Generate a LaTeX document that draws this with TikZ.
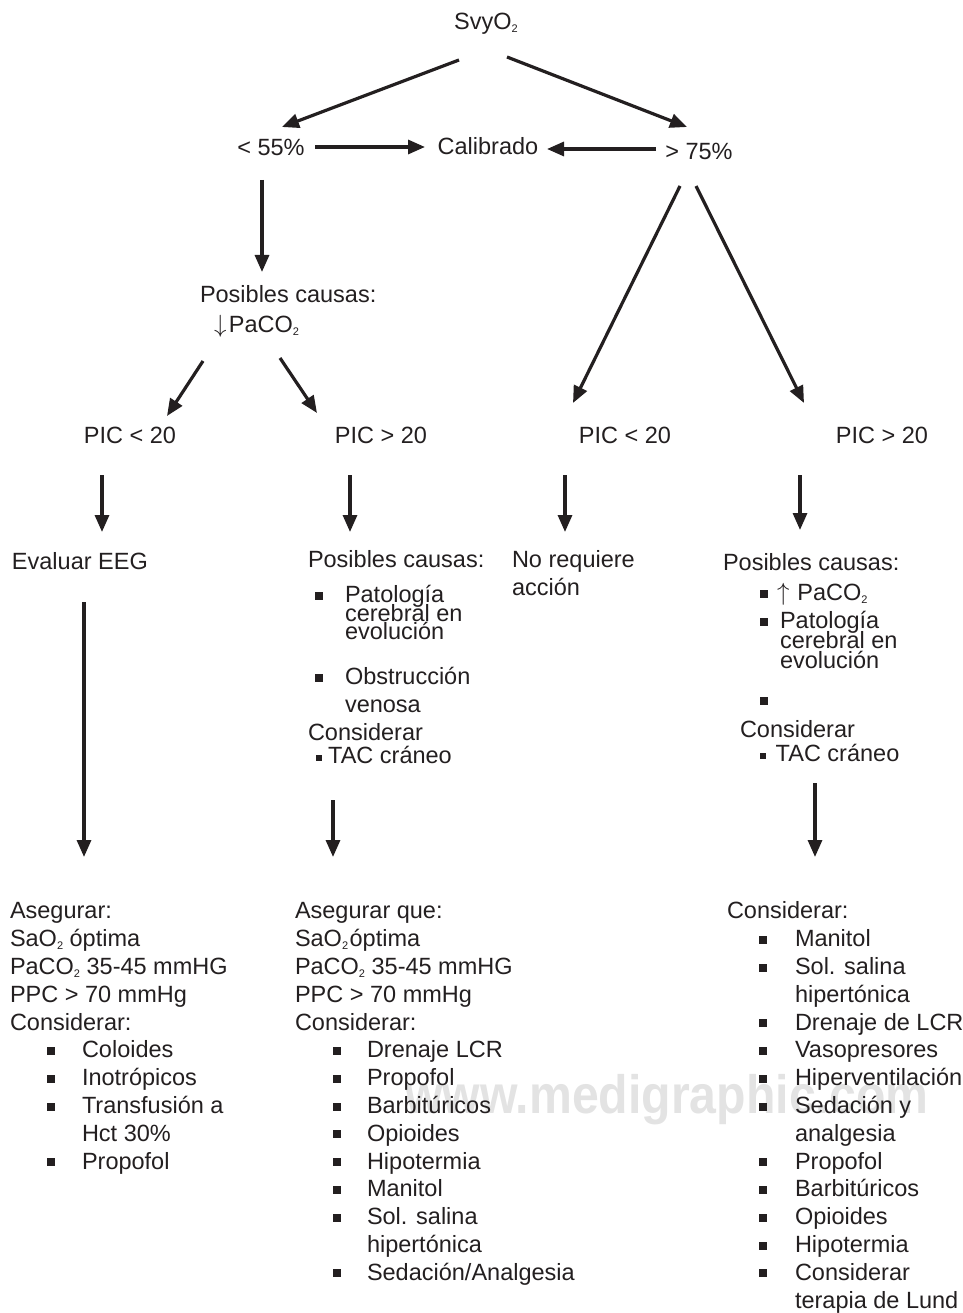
\documentclass[tikz,border=0pt]{standalone}
\usepackage{fontspec}
\setmainfont{Liberation Sans}
\usetikzlibrary{arrows.meta}
\definecolor{ink}{HTML}{231F20}
\newcommand\fs{\fontsize{23.5}{27.8}\selectfont}
\newcommand\sq{\rule[3pt]{8pt}{8pt}}
\newcommand\ssq{\rule[3pt]{6.2pt}{6.2pt}}
\newcommand\sub[1]{\raisebox{-2.5pt}{\fontsize{11}{11}\selectfont #1}}
\newcommand\itm[2]{\hspace*{#1}\makebox[#2][l]{\sq}}
\begin{document}
\begin{tikzpicture}[x=1pt,y=-1pt,
  every node/.style={inner sep=0pt, outer sep=0pt, text=ink, font=\fs},
  lbl/.style={anchor=base},
  blk/.style={anchor=north west, align=left},
  arr/.style={draw=ink, line width=3.2pt, -{Triangle[length=17pt,width=14pt]}}]
\useasboundingbox (0,0) rectangle (962,1313);
% watermark
\node[anchor=base west, text=black!11, font=\fontsize{54}{54}\selectfont\bfseries] (wm) at (405,1113) {\scalebox{0.893}[1]{www.medigraphic.com}};

% top level
\node[lbl] (svy) at (486,30) {SvyO\sub{2}};
\node[lbl] (lt55) at (271,156) {< 55\%};
\node[lbl] (calib) at (488,155) {Calibrado};
\node[lbl] (gt75) at (699,160) {> 75\%};

\node[blk] (poss) at (200,283.5) {\strut Posibles causas:\\[2.2pt]
  \hspace*{14pt}$\downarrow$\hspace*{2.5pt}PaCO\sub{2}};

\node[lbl] (picl) at (130,443) {PIC < 20};
\node[lbl] (picm) at (381,443) {PIC > 20};
\node[lbl] (picr1) at (625,443) {PIC < 20};
\node[lbl] (picr2) at (882,443) {PIC > 20};

\node[anchor=base west] (eval) at (12,569) {Evaluar EEG};

\node[blk] (cmid) at (308,548.5) {\strut Posibles causas:\\[7.2pt]
  \itm{7pt}{30pt}Patología\\[-9.3pt]
  \hspace*{37pt}cerebral en\\[-9.3pt]
  \hspace*{37pt}evolución\\[17.2pt]
  \itm{7pt}{30pt}Obstrucción\\[0.2pt]
  \hspace*{37pt}venosa\\[0.2pt]
  Considerar\\[-4.8pt]
  \hspace*{8pt}\ssq\hspace*{6pt}TAC cráneo};

\node[blk] (nreq) at (512,548) {\strut No requiere\\acción};

\node[blk] (cright) at (723,551.5) {\strut Posibles causas:\\[2.2pt]
  \itm{37pt}{17pt}$\uparrow$\hspace*{8pt}PaCO\sub{2}\\[0.2pt]
  \itm{37pt}{20pt}Patología\\[-7.8pt]
  \hspace*{57pt}cerebral en\\[-7.8pt]
  \hspace*{57pt}evolución\\[11.2pt]
  \hspace*{37pt}\sq\\[2.2pt]
  \hspace*{17pt}Considerar\\[-3.8pt]
  \hspace*{37pt}\ssq\hspace*{9.5pt}TAC cráneo};

% bottom blocks
\node[blk] (bl) at (10,899.5) {\strut Asegurar:\\
  SaO\sub{2} óptima\\
  PaCO\sub{2} 35-45 mmHG\\
  PPC > 70 mmHg\\
  Considerar:\\
  \itm{37pt}{35pt}Coloides\\
  \itm{37pt}{35pt}Inotrópicos\\
  \itm{37pt}{35pt}Transfusión a\\
  \hspace*{72pt}Hct 30\%\\
  \itm{37pt}{35pt}Propofol};

\node[blk] (bm) at (295,899.5) {\strut Asegurar que:\\
  SaO\sub{2}\hspace*{1.5pt}óptima\\
  PaCO\sub{2} 35-45 mmHG\\
  PPC > 70 mmHg\\
  Considerar:\\
  \itm{38pt}{34pt}Drenaje LCR\\
  \itm{38pt}{34pt}Propofol\\
  \itm{38pt}{34pt}Barbitúricos\\
  \itm{38pt}{34pt}Opioides\\
  \itm{38pt}{34pt}Hipotermia\\
  \itm{38pt}{34pt}Manitol\\
  \itm{38pt}{34pt}Sol. salina\\
  \hspace*{72pt}hipertónica\\
  \itm{38pt}{34pt}Sedación/Analgesia};

\node[blk] (br) at (727,899.5) {\strut Considerar:\\
  \itm{32pt}{36pt}Manitol\\
  \itm{32pt}{36pt}Sol. salina\\
  \hspace*{68pt}hipertónica\\
  \itm{32pt}{36pt}Drenaje de LCR\\
  \itm{32pt}{36pt}Vasopresores\\
  \itm{32pt}{36pt}Hiperventilación\\
  \itm{32pt}{36pt}Sedación y\\
  \hspace*{68pt}analgesia\\
  \itm{32pt}{36pt}Propofol\\
  \itm{32pt}{36pt}Barbitúricos\\
  \itm{32pt}{36pt}Opioides\\
  \itm{32pt}{36pt}Hipotermia\\
  \itm{32pt}{36pt}Considerar\\
  \hspace*{68pt}terapia de Lund};

% connectors
\draw[arr] ([shift={(-27,30)}]svy.base) -- ([shift={(11,-29)}]lt55.base);
\draw[arr] ([shift={(21,27)}]svy.base) -- ([shift={(-12,-33)}]gt75.base);
\draw[arr] ([shift={(44,-9)}]lt55.base) -- ([shift={(-63,-8)}]calib.base);
\draw[arr] ([shift={(-43,-11)}]gt75.base) -- ([shift={(59,-6)}]calib.base);
\draw[arr] ([shift={(-9,24)}]lt55.base) -- ([shift={(62,-11.5)}]poss.north west);
\draw[arr] ([shift={(3,77.5)}]poss.north west) -- ([shift={(37,-27)}]picl.base);
\draw[arr] ([shift={(80,74.5)}]poss.north west) -- ([shift={(-64,-30)}]picm.base);
\draw[arr] ([shift={(-19,26)}]gt75.base) -- ([shift={(-52,-40)}]picr1.base);
\draw[arr] ([shift={(-3,26)}]gt75.base) -- ([shift={(-78,-40)}]picr2.base);
\draw[arr] ([shift={(-28,32)}]picl.base) -- ([shift={(90,-37)}]eval.base west);
\draw[arr] ([shift={(-31,32)}]picm.base) -- ([shift={(42,-16.5)}]cmid.north west);
\draw[arr] ([shift={(-60,32)}]picr1.base) -- ([shift={(53,-16)}]nreq.north west);
\draw[arr] ([shift={(-82,32)}]picr2.base) -- ([shift={(77,-21.5)}]cright.north west);
\draw[arr] ([shift={(72,33)}]eval.base west) -- ([shift={(74,-42.5)}]bl.north west);
\draw[arr] ([shift={(25,251.5)}]cmid.north west) -- ([shift={(38,-42.5)}]bm.north west);
\draw[arr] ([shift={(92,231.5)}]cright.north west) -- ([shift={(88,-42.5)}]br.north west);
\end{tikzpicture}
\end{document}
